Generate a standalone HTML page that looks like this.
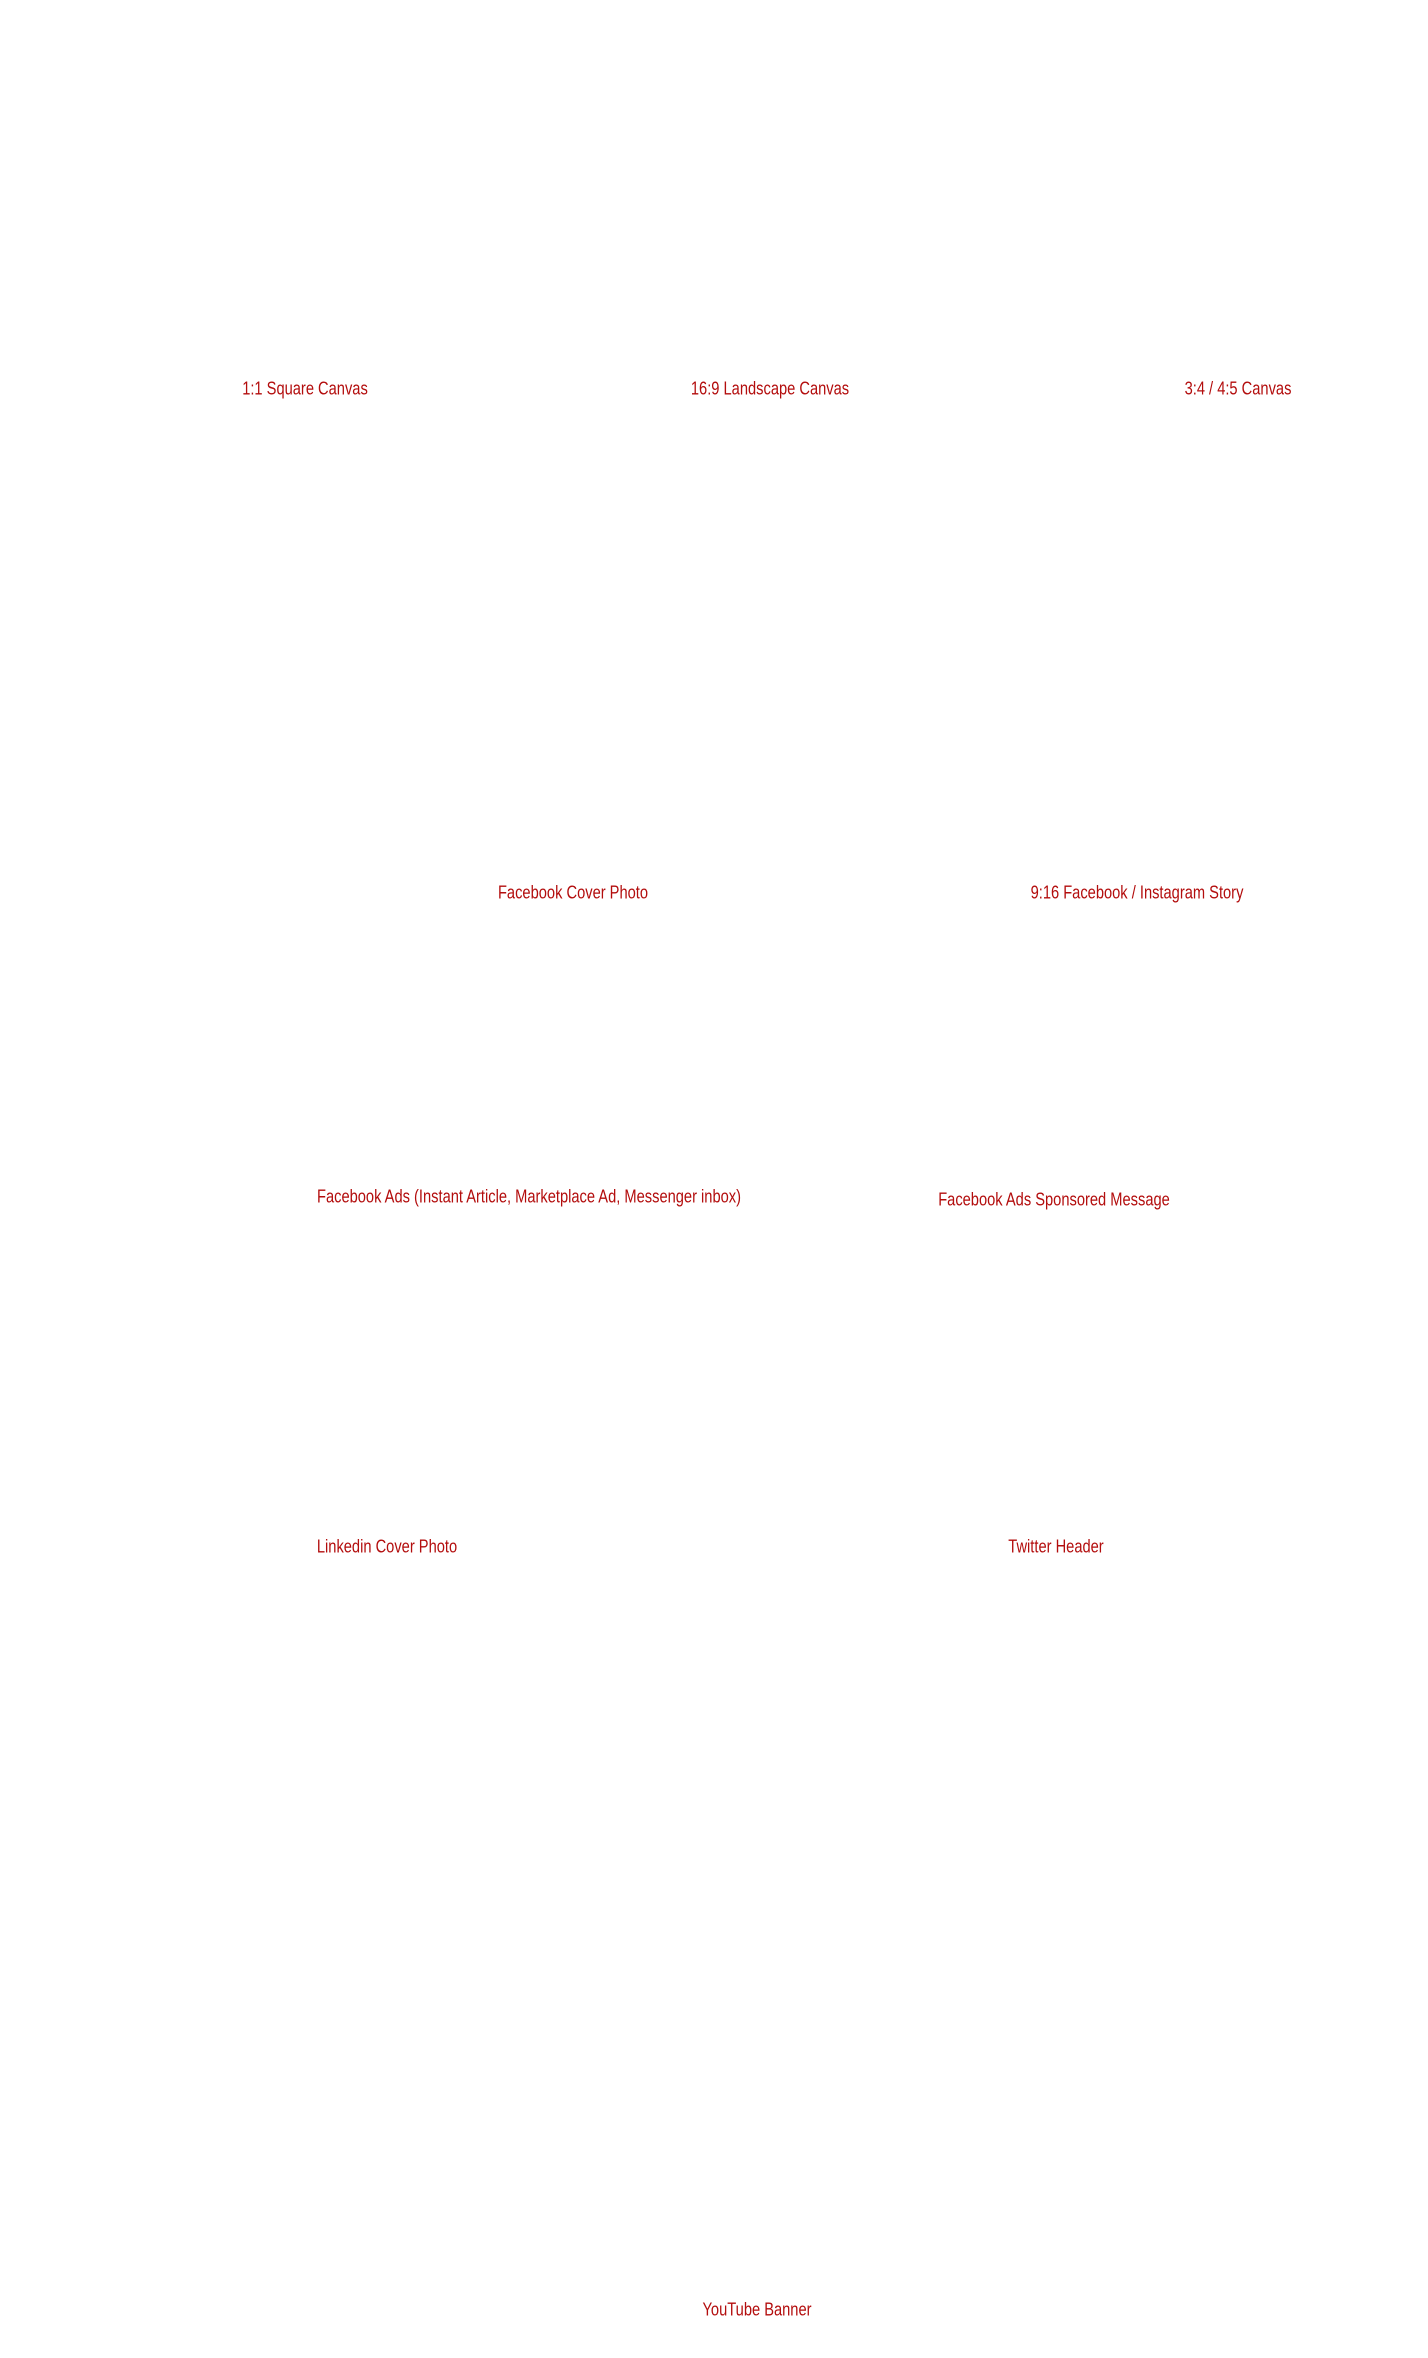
<!DOCTYPE html>
<html><head><meta charset="utf-8"><style>
html,body{margin:0;padding:0;background:#fff;}
body{width:1428px;height:2358px;position:relative;overflow:hidden;}
.l{position:absolute;transform:translate(-50%,-50%) scaleX(0.815);white-space:nowrap;font-family:"Liberation Sans",sans-serif;font-size:18px;color:#b30d0d;}
</style></head><body>
<div class="l" style="left:305px;top:389px">1:1 Square Canvas</div>
<div class="l" style="left:770px;top:389px">16:9 Landscape Canvas</div>
<div class="l" style="left:1238px;top:389px">3:4 / 4:5 Canvas</div>
<div class="l" style="left:573px;top:893px">Facebook Cover Photo</div>
<div class="l" style="left:1137px;top:893px">9:16 Facebook / Instagram Story</div>
<div class="l" style="left:529px;top:1197px">Facebook Ads (Instant Article, Marketplace Ad, Messenger inbox)</div>
<div class="l" style="left:1054px;top:1200px">Facebook Ads Sponsored Message</div>
<div class="l" style="left:387px;top:1547px">Linkedin Cover Photo</div>
<div class="l" style="left:1056px;top:1547px">Twitter Header</div>
<div class="l" style="left:757px;top:2310px">YouTube Banner</div>
</body></html>
